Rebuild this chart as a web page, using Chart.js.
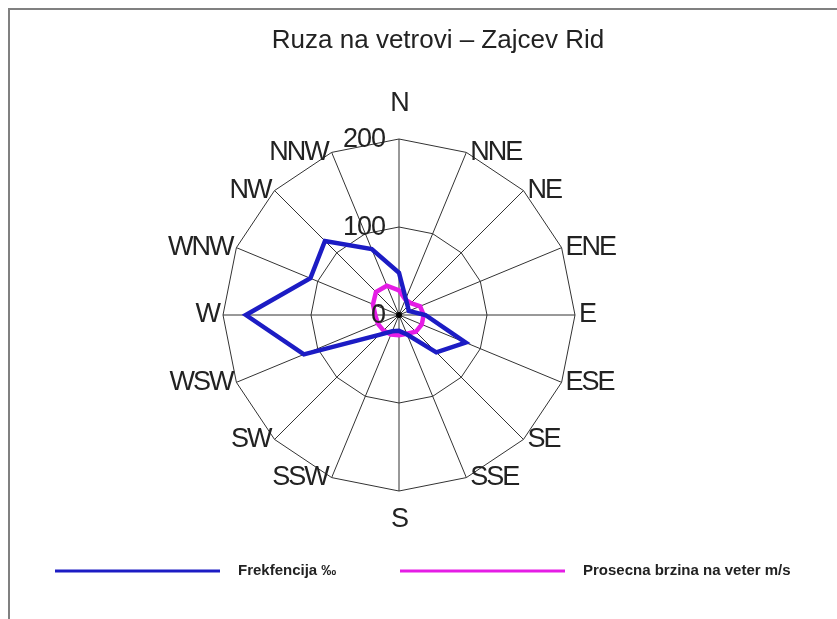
<!DOCTYPE html>
<html>
<head>
<meta charset="utf-8">
<script src="https://cdn.jsdelivr.net/npm/chart.js@4/dist/chart.umd.min.js"></script>
<style>
  html, body { margin: 0; padding: 0; background: #fff; }
  #wrap { position: relative; width: 837px; height: 619px; }
  #frame { position: absolute; left: 8px; top: 8px; right: 0; bottom: 0;
           border-left: 2px solid #808080; border-top: 2px solid #808080; }
  canvas { position: absolute; left: 0; top: 0; }
</style>
</head>
<body>
<div id="wrap">
  <div id="frame"></div>
  <canvas id="ruza" width="837" height="619"></canvas>
</div>
<script>
// pravci
const pravci = ["N", "NNE", "NE", "ENE", "E", "ESE", "SE", "SSE",
                "S", "SSW", "SW", "WSW", "W", "WNW", "NW", "NNW"];
// frekfencija (promili)
const frekfencija = [48, 20, 14, 12, 30, 82, 60, 24, 18, 20, 32, 117, 174, 109, 119, 81];
// prosecna brzina (na istoj skali)
const brzina = [28, 19, 19, 26, 28, 28, 27, 23, 23, 24, 25, 26, 27, 32, 37, 36];
const podeoci = [0, 100, 200];

const naslov = "Ruza na vetrovi \u2013 Zajcev Rid";
const legenda = ["Frekfencija \u2030", "Prosecna brzina na veter m/s"];
const boje = ["#1c1cc4", "#e51de5"];

const FONT = "'Liberation Sans', Arial, sans-serif";

// crta naslov, oznake pravaca, podeoke i legendu
const ruzaPlugin = {
  id: "ruzaTekst",
  afterDraw(chart) {
    const ctx = chart.ctx;
    const r = chart.scales.r;
    const R = r.drawingArea;
    ctx.save();

    // naslov
    ctx.fillStyle = "#222";
    ctx.font = "26px " + FONT;
    ctx.textAlign = "center";
    ctx.textBaseline = "alphabetic";
    ctx.fillText(naslov, 438, 48);

    // pravci: levo/desno poravnati uz teme, N i S centrirani
    ctx.font = "27px " + FONT;
    ctx.letterSpacing = "-2px";
    ctx.textBaseline = "middle";
    pravci.forEach((p, i) => {
      const n = pravci.length;
      if (i === 0 || i === n / 2) {
        const pos = r.getPointPosition(i, R + (i === 0 ? 35 : 29));
        ctx.textAlign = "center";
        ctx.fillText(p, pos.x, pos.y);
      } else {
        const pos = r.getPointPosition(i, R);
        const desno = i < n / 2;
        ctx.textAlign = desno ? "left" : "right";
        ctx.fillText(p, pos.x + (desno ? 4 : -4), pos.y);
      }
    });

    // podeoci levo od N ose
    ctx.letterSpacing = "-1px";
    ctx.textAlign = "right";
    podeoci.forEach(v => {
      const d = r.getDistanceFromCenterForValue(v);
      ctx.fillText(String(v), r.xCenter - 14, r.yCenter - d + 1);
    });
    ctx.letterSpacing = "0px";

    // centar
    ctx.fillStyle = "#000";
    ctx.beginPath();
    ctx.arc(r.xCenter, r.yCenter, 3, 0, Math.PI * 2);
    ctx.fill();

    // legenda
    const ly = 571;
    const lx = [55, 400];
    ctx.font = "bold 15px " + FONT;
    ctx.textAlign = "left";
    legenda.forEach((t, i) => {
      ctx.strokeStyle = boje[i];
      ctx.lineWidth = 3;
      ctx.beginPath();
      ctx.moveTo(lx[i], ly);
      ctx.lineTo(lx[i] + 165, ly);
      ctx.stroke();
      ctx.fillStyle = "#222";
      ctx.fillText(t, lx[i] + 183, ly);
    });
    ctx.restore();
  }
};

new Chart(document.getElementById("ruza"), {
  type: "radar",
  data: {
    labels: pravci,
    datasets: [
      {
        label: legenda[0],
        data: frekfencija,
        borderColor: boje[0],
        borderWidth: 4.5,
        fill: false,
        pointRadius: 0,
        tension: 0
      },
      {
        label: legenda[1],
        data: brzina,
        borderColor: boje[1],
        borderWidth: 4.5,
        fill: false,
        pointRadius: 0,
        tension: 0
      }
    ]
  },
  options: {
    responsive: false,
    animation: false,
    layout: { padding: { left: 223, right: 262, top: 139, bottom: 128 } },
    plugins: {
      legend: { display: false },
      title: { display: false },
      tooltip: { enabled: false }
    },
    scales: {
      r: {
        min: 0,
        max: 200,
        ticks: { stepSize: 100, display: false },
        grid: { color: "#333", lineWidth: 1, circular: false },
        angleLines: { color: "#333", lineWidth: 1 },
        pointLabels: { display: false }
      }
    }
  },
  plugins: [ruzaPlugin]
});
</script>
</body>
</html>
